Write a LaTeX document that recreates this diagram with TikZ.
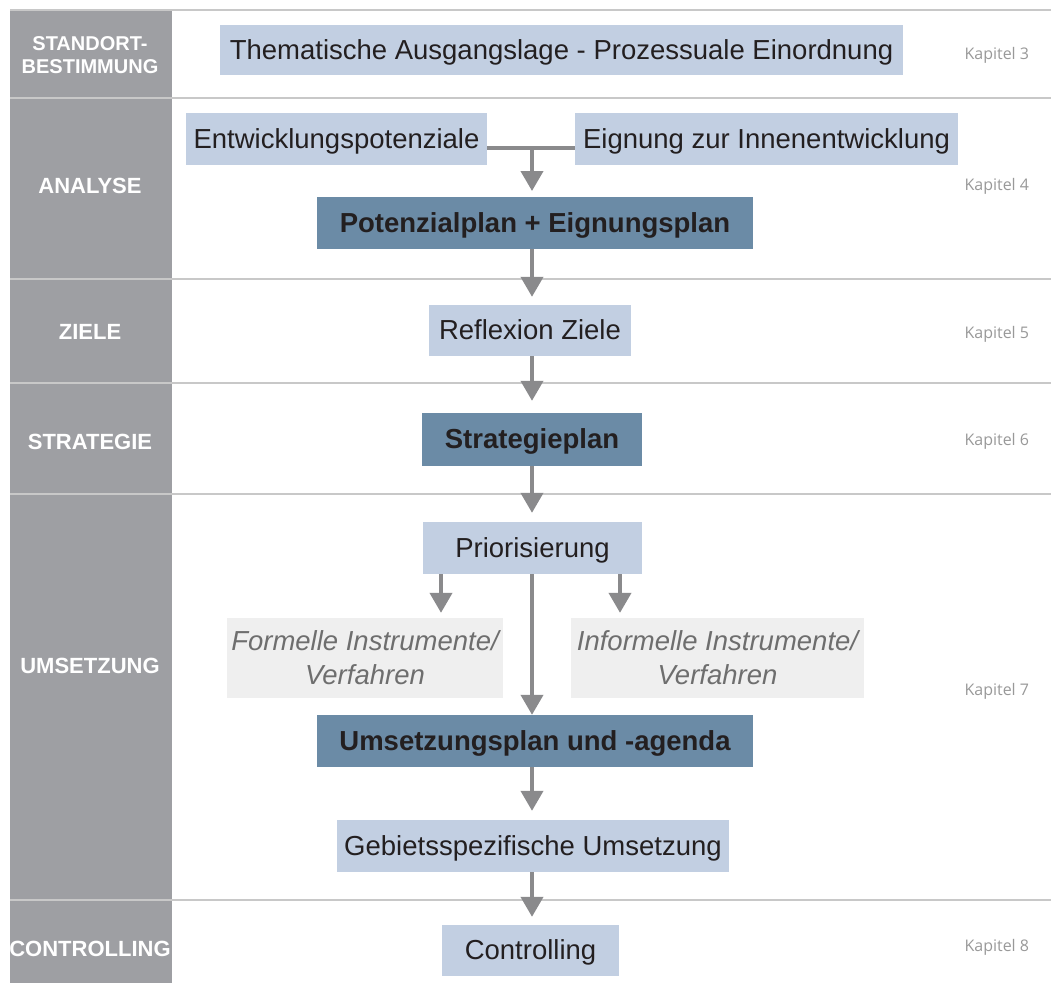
\documentclass[tikz,border=0pt]{standalone}
\usepackage{fontspec}
\setmainfont{Liberation Sans}
\newfontfamily\kapfont{Open Sans}
\usetikzlibrary{arrows.meta}
\definecolor{side}{HTML}{9E9FA3}
\definecolor{light}{HTML}{C2CFE2}
\definecolor{dark}{HTML}{6B8BA6}
\definecolor{pale}{HTML}{EFEFEF}
\definecolor{sep}{HTML}{C8C8C8}
\definecolor{arr}{HTML}{8A8A8C}
\definecolor{itxt}{HTML}{6E6E6E}
\definecolor{ktxt}{HTML}{999999}
\definecolor{dtxt}{HTML}{231F20}
\begin{document}
\begin{tikzpicture}[x=1pt,y=-1pt,
  lbox/.style={fill=light,text=dtxt,font=\fontsize{27.5}{32}\selectfont,inner sep=0pt,text height=24pt,text depth=5.5pt},
  dbox/.style={fill=dark,text=dtxt,font=\fontsize{27.5}{32}\selectfont\bfseries,inner sep=0pt,text height=24pt,text depth=5.5pt},
  pbox/.style={fill=pale,text=itxt,font=\fontsize{27.5}{34}\selectfont\itshape,inner sep=0pt,align=center},
  sidelabel/.style={text=white,font=\fontsize{22}{26}\selectfont\bfseries,align=center},
  kap/.style={text=ktxt,font=\kapfont\fontsize{16}{18}\selectfont,anchor=west},
  flow/.style={draw=arr,line width=4pt,-{Triangle[width=22pt,length=20pt]}},
  link/.style={draw=arr,line width=4pt}]
\useasboundingbox (0,0) rectangle (1051,983);
\fill[white] (0,0) rectangle (1051,983);
% sidebar
\fill[side] (10,10) rectangle (172,983);
% separators
\foreach \y in {10,98,279,383,494,900}
  \draw[sep,line width=1.2pt] (10,\y) -- (1051,\y);
% side labels
\node[sidelabel,font=\fontsize{20}{26}\selectfont\bfseries] (s1) at (90,55) {STANDORT-\\[-3pt]BESTIMMUNG};
\node[sidelabel] (s2) at (90,186) {ANALYSE};
\node[sidelabel] (s3) at (90,332) {ZIELE};
\node[sidelabel] (s4) at (90,442) {STRATEGIE};
\node[sidelabel] (s5) at (90,666) {UMSETZUNG};
\node[sidelabel] (s6) at (90,949) {CONTROLLING};
% chapter labels
\node[kap] (k3) at (961,55) {Kapitel 3};
\node[kap] (k4) at (961,186) {Kapitel 4};
\node[kap] (k5) at (961,334) {Kapitel 5};
\node[kap] (k6) at (961,441) {Kapitel 6};
\node[kap] (k7) at (961,691) {Kapitel 7};
\node[kap] (k8) at (961,947) {Kapitel 8};
% boxes
\node[lbox,minimum width=683pt,minimum height=50pt] (them) at (561.5,50) {Thematische Ausgangslage - Prozessuale Einordnung};
\node[lbox,minimum width=301pt,minimum height=52pt] (entw) at (336.5,139) {Entwicklungspotenziale};
\node[lbox,minimum width=383pt,minimum height=52pt] (eign) at (766.5,139) {Eignung zur Innenentwicklung};
\node[dbox,minimum width=436pt,minimum height=52pt] (pot) at (535,223) {Potenzialplan + Eignungsplan};
\node[lbox,minimum width=202pt,minimum height=51pt] (refl) at (530,330.5) {Reflexion Ziele};
\node[dbox,minimum width=220pt,minimum height=53pt] (strat) at (532,439.5) {Strategieplan};
\node[lbox,minimum width=219pt,minimum height=52pt] (prio) at (532.5,548) {Priorisierung};
\node[pbox,minimum width=276pt,minimum height=80pt] (form) at (365,658) {Formelle Instrumente/\\Verfahren};
\node[pbox,minimum width=293pt,minimum height=80pt] (inf) at (717.5,658) {Informelle Instrumente/\\Verfahren};
\node[dbox,minimum width=436pt,minimum height=52pt] (ump) at (535,741) {Umsetzungsplan und -agenda};
\node[lbox,minimum width=392pt,minimum height=52pt] (geb) at (533,846) {Gebietsspezifische Umsetzung};
\node[lbox,minimum width=177pt,minimum height=51pt] (contr) at (530.5,950.5) {Controlling};
% connectors
\coordinate (j) at (532,148);
\draw[link] (entw.east |- j) -- (eign.west |- j);
\draw[flow] (j) -- (532,191) coordinate (pt);
\draw[flow,shorten >=8pt] (pot.south -| 532,0) -- (refl.north -| 532,0);
\draw[flow,shorten >=12pt] (refl.south -| 532,0) -- (strat.north -| 532,0);
\draw[flow,shorten >=9pt] (strat.south -| 532,0) -- (prio.north -| 532,0);
\draw[flow,shorten >=5pt] (prio.south -| 441,0) -- (form.north -| 441,0);
\draw[flow,shorten >=5pt] (prio.south -| 620,0) -- (inf.north -| 620,0);
\draw[flow] (prio.south -| 532,0) -- (ump.north -| 532,0);
\draw[flow,shorten >=9pt] (ump.south -| 532,0) -- (geb.north -| 532,0);
\draw[flow,shorten >=8pt] (geb.south -| 532,0) -- (contr.north -| 532,0);
\end{tikzpicture}
\end{document}
